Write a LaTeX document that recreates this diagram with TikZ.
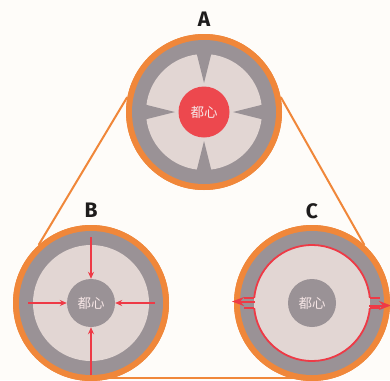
\documentclass[tikz,border=0pt]{standalone}
\usepackage{fontspec}
\setmainfont{Fira Sans}
\newfontfamily\cjk{Noto Sans CJK SC}
\usetikzlibrary{arrows.meta,calc}

\definecolor{paper}{RGB}{254,252,249}
\definecolor{ringorange}{RGB}{240,135,58}
\definecolor{ringgray}{RGB}{154,146,150}
\definecolor{discpink}{RGB}{226,214,211}
\definecolor{corered}{RGB}{237,72,78}
\definecolor{flowred}{RGB}{238,58,70}
\definecolor{coretext}{RGB}{246,230,230}
\definecolor{labelink}{RGB}{30,28,28}

\tikzset{
  zone/.style={circle, fill=ringorange, minimum size=156pt, inner sep=0pt},
  core/.style={circle, minimum size=48pt, inner sep=0pt, text=coretext,
               font=\cjk\fontsize{13.5}{13.5}\selectfont},
  zonelabel/.style={text=labelink, font=\bfseries\fontsize{21}{21}\selectfont},
  link/.style={draw=ringorange, line width=2pt},
  inflow/.style={draw=flowred, line width=1.3pt,
                 -{Stealth[length=7pt,width=6pt]}},
  outflow/.style={draw=flowred, line width=2pt,
                  -{Stealth[length=12pt,width=9pt]}},
  rim/.style={draw=flowred, line width=1.8pt},
}

\begin{document}
\begin{tikzpicture}[x=1pt,y=-1pt]
\fill[paper] (0,0) rectangle (390,380);
\useasboundingbox (0,0) rectangle (390,380);

% the three zones (outer orange rings)
\node[zone] (A) at (204,112) {};
\node[zone] (B) at (91,303) {};
\node[zone] (C) at (312,303) {};

% orange triangle linking the zones
\coordinate (bl) at (91,378);
\coordinate (cl) at (312,378);
\draw[link] (A.169) -- (B.132);
\draw[link] (A.11) -- (C.48);
\draw[link] (bl) -- (cl);

% repaint the rings over the line ends
\foreach \z in {A,B,C}{
  \fill[ringorange] (\z.center) circle[radius=78pt];
  \fill[ringgray]   (\z.center) circle[radius=72pt];
  \fill[discpink]   (\z.center) circle[radius=58pt];
}

% zone A: wedges pointing at the red core
\begin{scope}[shift={(A.center)}]
  \foreach \a in {0,90,180,270}
    \fill[ringgray, rotate=\a] (-7.5,-59) -- (7.5,-59) -- (0,-29) -- cycle;
\end{scope}
\node[core, fill=corered, minimum size=51pt] (Acore) at (A.center) {都心};

% zone B: flows converging on the core
\node[core, fill=ringgray] (Bcore) at (B.center) {都心};
\draw[inflow] ($(B.center)+(0,-66)$) -- (Bcore);
\draw[inflow] ($(B.center)+(-63,0)$) -- (Bcore);
\draw[inflow] ($(B.center)+(64,0)$) -- (Bcore);
\draw[inflow] ($(B.center)+(0,72)$) -- (Bcore);

% zone C: rim with openings and outward flows
\node[core, fill=ringgray] (Ccore) at (C.center) {都心};
\begin{scope}[shift={(C.center)}]
  \draw[rim] (-5:58) arc[start angle=-5, end angle=-175, radius=58];
  \draw[rim] (5:58) arc[start angle=5, end angle=175, radius=58];
  \draw[rim] (-57.8,-5) -- (-68,-5);
  \draw[rim] (-57.8,5) -- (-68,5);
  \draw[rim] (57.8,-5) -- (68,-5);
  \draw[rim] (57.8,5) -- (68,5);
  \coordinate (cw0) at (-57,-1.5);
  \coordinate (cw1) at (-80,-1.5);
  \coordinate (ce0) at (57,2.5);
  \coordinate (ce1) at (79,2.5);
\end{scope}
\draw[outflow] (cw0) -- (cw1);
\draw[outflow] (ce0) -- (ce1);

% zone labels
\node[zonelabel] (LA) at (204,19) {A};
\node[zonelabel] (LB) at (91,210) {B};
\node[zonelabel] (LC) at (312,211) {C};
\end{tikzpicture}
\end{document}
